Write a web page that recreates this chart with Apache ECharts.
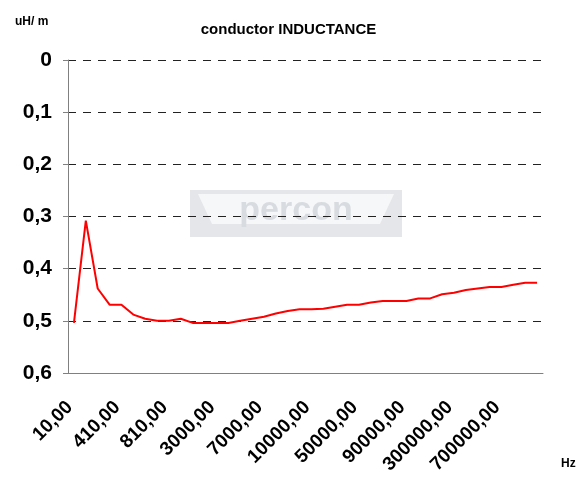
<!DOCTYPE html>
<html>
<head>
<meta charset="utf-8">
<script src="https://cdn.jsdelivr.net/npm/echarts@6/dist/echarts.min.js"></script>
<style>
html, body { margin: 0; padding: 0; background: #fff; }
#chart { width: 577px; height: 482px; }
</style>
</head>
<body>
<div id="chart"></div>
<script>
// frequencies (Hz) on the category axis
let freqs = [10, 110, 210, 310, 410, 510, 610, 710, 810, 910,
    1000, 2000, 3000, 4000, 5000, 6000, 7000, 8000, 9000, 9500,
    10000, 20000, 30000, 40000, 50000, 60000, 70000, 80000, 90000, 100000,
    150000, 200000, 300000, 400000, 500000, 600000, 700000, 800000, 900000, 1000000];
// inductance uH/m
let inductance = [0.504, 0.308, 0.438, 0.469, 0.469, 0.488, 0.496, 0.500, 0.500, 0.496,
    0.504, 0.504, 0.504, 0.504, 0.500, 0.496, 0.492, 0.486, 0.481, 0.478,
    0.478, 0.477, 0.473, 0.469, 0.469, 0.465, 0.462, 0.462, 0.462, 0.457,
    0.457, 0.449, 0.446, 0.441, 0.438, 0.435, 0.435, 0.431, 0.427, 0.427];
let yTicks = [0, 0.1, 0.2, 0.3, 0.4, 0.5, 0.6];

let categories = freqs.map(f => f.toFixed(2).replace('.', ','));
let myChart = echarts.init(document.getElementById('chart'));
let font = 'Liberation Sans, Arial, sans-serif';

let option = {
    animation: false,
    title: [{
        text: 'conductor INDUCTANCE',
        left: 'center',
        top: 17,
        textStyle: { fontFamily: font, fontSize: 15, fontWeight: 'bold', color: '#000' }
    }, {
        text: 'uH/ m',
        left: 10,
        top: 11,
        textStyle: { fontFamily: font, fontSize: 12, fontWeight: 'bold', color: '#000' }
    }, {
        text: 'Hz',
        left: 556,
        top: 453,
        textStyle: { fontFamily: font, fontSize: 12, fontWeight: 'bold', color: '#000' }
    }],
    graphic: [{
        type: 'group',
        left: 190,
        top: 190,
        z: -10,
        children: [{
            type: 'rect',
            shape: { x: 0, y: 0, width: 212, height: 47 },
            style: { fill: '#e4e6e9' }
        }, {
            type: 'polygon',
            shape: { points: [[8, 4], [204, 4], [190, 34], [22, 34]] },
            style: { fill: '#f6f7f8' }
        }, {
            type: 'text',
            style: {
                text: 'percon', x: 106, y: 4, align: 'center',
                fontFamily: font, fontSize: 34, fontWeight: 'bold', fill: '#d8dbdf'
            }
        }]
    }],
    grid: { left: 68, right: 34, top: 60, bottom: 109 },
    xAxis: {
        type: 'category',
        data: categories,
        boundaryGap: true,
        axisLine: { onZero: false, lineStyle: { color: '#808080', width: 1 } },
        axisTick: { interval: 0, length: 5, lineStyle: { color: '#808080' } },
        axisLabel: {
            interval: 3,
            rotate: 45,
            margin: 27,
            padding: [0, 6, 0, 0],
            fontFamily: font,
            fontSize: 19,
            fontWeight: 'bold',
            color: '#000'
        },
        splitLine: { show: false }
    },
    yAxis: {
        type: 'value',
        inverse: true,
        min: yTicks[0],
        max: yTicks[yTicks.length - 1],
        interval: 0.1,
        axisLine: { show: true, lineStyle: { color: '#808080', width: 1 } },
        axisTick: { show: true, length: 5, lineStyle: { color: '#808080' } },
        axisLabel: {
            margin: 16,
            fontFamily: font,
            fontSize: 21,
            fontWeight: 'bold',
            color: '#000',
            formatter: v => v === 0 ? '0' : v.toFixed(1).replace('.', ',')
        },
        splitLine: { show: true, lineStyle: { color: '#222', type: [8, 7], width: 1 } }
    },
    series: [{
        name: 'conductor INDUCTANCE',
        type: 'line',
        data: inductance,
        showSymbol: false,
        lineStyle: { color: '#ff0000', width: 2 },
        itemStyle: { color: '#ff0000' }
    }]
};
myChart.setOption(option);
</script>
</body>
</html>
